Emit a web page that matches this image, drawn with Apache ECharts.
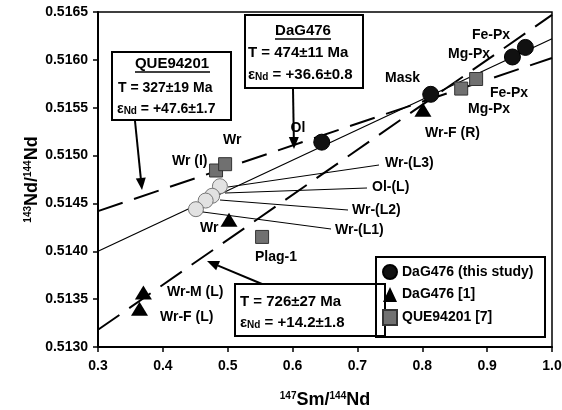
<!DOCTYPE html>
<html><head><meta charset="utf-8">
<script src="https://cdn.jsdelivr.net/npm/echarts@6/dist/echarts.min.js"></script>
<style>html,body{margin:0;padding:0;background:#fff}#c{width:562px;height:410px}</style>
</head><body><div id="c"></div>
<script>
// ---- data ----
const xTicks = [0.3, 0.4, 0.5, 0.6, 0.7, 0.8, 0.9, 1.0];
const yTicks = [0.5130, 0.5135, 0.5140, 0.5145, 0.5150, 0.5155, 0.5160, 0.5165];
// DaG476 (this study): Ol, Mask, Mg-Px, Fe-Px
const dagX = [0.645, 0.813, 0.939, 0.959];
const dagY = [0.51514, 0.51564, 0.51603, 0.51613];
// DaG476 [1]: Wr-M (L), Wr-F (L), Wr, Wr-F (R)
const nyqX = [0.370, 0.364, 0.502, 0.801];
const nyqY = [0.51357, 0.51340, 0.51433, 0.51548];
// QUE94201 [7]: Wr (I), Wr, Plag-1, Fe-Px, Mg-Px
const queX = [0.482, 0.496, 0.553, 0.860, 0.883];
const queY = [0.514844, 0.51491, 0.51415, 0.51570, 0.51580];
// leachates: Wr-(L3), Ol-(L), Wr-(L2), Wr-(L1)
const leachX = [0.488, 0.476, 0.466, 0.451];
const leachY = [0.51468, 0.51458, 0.51453, 0.51444];
// isochron end points
const dagLineX = [0.3, 1.0], dagLineY = [0.51400, 0.51622];
const nyqLineX = [0.3, 1.0], nyqLineY = [0.51318, 0.51647];
const queLineX = [0.3, 1.0], queLineY = [0.51442, 0.51602];

const zip = (a, b) => a.map((v, i) => [v, b[i]]);
const F = 'Liberation Sans';
const chart = echarts.init(document.getElementById('c'), null, {renderer: 'canvas'});

function arrow(fx, fy, tx, ty) {
  const dx = tx - fx, dy = ty - fy, L = Math.hypot(dx, dy), ux = dx / L, uy = dy / L;
  const len = 12, hw = 5, bx = tx - ux * len, by = ty - uy * len;
  return [
    {type: 'line', z: 100, shape: {x1: fx, y1: fy, x2: bx, y2: by}, style: {stroke: '#000', lineWidth: 2}},
    {type: 'polygon', z: 100, shape: {points: [[tx, ty], [bx - uy * hw, by + ux * hw], [bx + uy * hw, by - ux * hw]]}, style: {fill: '#000'}}
  ];
}
function txt(x, y, s, size, align) {
  return {type: 'text', z: 101, x: x, y: y, style: {text: s, font: 'bold ' + (size || 14) + 'px "' + F + '"', fill: '#000', textAlign: align || 'left', textVerticalAlign: 'middle'}};
}
function rich(x, y, s, size) {
  return {type: 'text', z: 101, x: x, y: y, style: {text: s, fill: '#000', textVerticalAlign: 'middle',
    rich: {n: {fontFamily: F, fontWeight: 'bold', fontSize: size}, sub: {fontFamily: F, fontWeight: 'bold', fontSize: 10, verticalAlign: 'bottom'}}}};
}
function box(x, y, w, h, fill) {
  return {type: 'rect', z: 99, shape: {x: x, y: y, width: w, height: h}, style: {fill: fill || '#fff', stroke: '#000', lineWidth: 2}};
}
function lead(x1, y1, x2, y2) {
  return {type: 'line', z: 98, shape: {x1, y1, x2, y2}, style: {stroke: '#000', lineWidth: 1}};
}
function uline(x1, x2, y) {
  return {type: 'line', z: 101, shape: {x1, y1: y, x2, y2: y}, style: {stroke: '#000', lineWidth: 1.5}};
}

const graphics = [].concat(
  // QUE94201 box
  [box(112, 52, 119, 68), txt(172, 64, 'QUE94201', 15, 'center'), uline(135, 210, 72),
   txt(118, 88, 'T = 327±19 Ma', 14), rich(117, 109, '{n|ε}{sub|Nd}{n| = +47.6±1.7}', 14)],
  arrow(135, 121, 142, 190),
  // DaG476 box
  [box(245, 15, 118, 73), txt(303, 31, 'DaG476', 15, 'center'), uline(275, 331, 39),
   txt(248, 53, 'T = 474±11 Ma', 15), rich(248, 75, '{n|ε}{sub|Nd}{n| = +36.6±0.8}', 15)],
  arrow(293, 89, 294, 149),
  // T=726 box
  [box(235, 284, 150, 52), txt(240, 302, 'T = 726±27 Ma', 15), rich(240, 323, '{n|ε}{sub|Nd}{n| = +14.2±1.8}', 15)],
  arrow(262, 284, 207, 261),
  // legend frame
  [box(376, 257, 169, 80, 'none')],
  // point labels
  [txt(298, 128, 'Ol', 14, 'center'), txt(385, 78, 'Mask'), txt(472, 35, 'Fe-Px'), txt(448, 54, 'Mg-Px'),
   txt(490, 93, 'Fe-Px'), txt(468, 109, 'Mg-Px'), txt(425, 133, 'Wr-F (R)'), txt(223, 140, 'Wr'),
   txt(172, 161, 'Wr (I)'), txt(385, 163, 'Wr-(L3)'), txt(372, 187, 'Ol-(L)'), txt(352, 210, 'Wr-(L2)'),
   txt(335, 230, 'Wr-(L1)'), txt(200, 228, 'Wr'), txt(255, 257, 'Plag-1'), txt(167, 292, 'Wr-M (L)'),
   txt(160, 317, 'Wr-F (L)')],
  [lead(228, 187, 379, 165), lead(225, 193, 367, 188), lead(220, 200, 348, 210), lead(203, 212, 331, 229)]
);

const dash = [26, 12];
chart.setOption({
  animation: false,
  backgroundColor: '#fff',
  grid: {left: 98, right: 10, top: 12, bottom: 63, containLabel: false, outerBoundsMode: 'none',
         show: true, borderColor: '#000', borderWidth: 1.5},
  xAxis: {
    type: 'value', min: xTicks[0], max: xTicks[xTicks.length - 1], interval: 0.1,
    axisLine: {show: true, lineStyle: {color: '#000', width: 2}},
    axisTick: {show: true, length: 5, lineStyle: {color: '#000', width: 1.5}},
    splitLine: {show: false},
    axisLabel: {margin: 12, color: '#000', fontFamily: F, fontWeight: 'bold', fontSize: 14, formatter: v => v.toFixed(1)},
    name: '{s|147}{n|Sm/}{s|144}{n|Nd}', nameLocation: 'middle', nameGap: 44, nameMoveOverlap: false,
    nameTextStyle: {rich: {s: {fontFamily: F, fontWeight: 'bold', fontSize: 10, verticalAlign: 'top'}, n: {fontFamily: F, fontWeight: 'bold', fontSize: 18}}}
  },
  yAxis: {
    type: 'value', min: yTicks[0], max: yTicks[yTicks.length - 1], interval: 0.0005,
    axisLine: {show: true, lineStyle: {color: '#000', width: 2}},
    axisTick: {show: true, length: 5, lineStyle: {color: '#000', width: 1.5}},
    splitLine: {show: false},
    axisLabel: {margin: 10, color: '#000', fontFamily: F, fontWeight: 'bold', fontSize: 14, formatter: v => v.toFixed(4)},
    name: '{s|143}{n|Nd/}{s|144}{n|Nd}', nameLocation: 'middle', nameGap: 57, nameRotate: 90, nameMoveOverlap: false,
    nameTextStyle: {rich: {s: {fontFamily: F, fontWeight: 'bold', fontSize: 10, verticalAlign: 'top'}, n: {fontFamily: F, fontWeight: 'bold', fontSize: 18}}}
  },
  legend: {
    left: 377, top: 259, orient: 'vertical', itemWidth: 14, itemHeight: 15, itemGap: 7, z: 120,
    data: ['DaG476 (this study)', 'DaG476 [1]', 'QUE94201 [7]'],
    textStyle: {fontFamily: F, fontWeight: 'bold', fontSize: 14, color: '#000'}
  },
  series: [
    {type: 'line', name: 'dagIso', data: zip(dagLineX, dagLineY), symbol: 'none', lineStyle: {color: '#000', width: 1.2}, z: 2, silent: true},
    {type: 'line', name: 'nyqIso', data: zip(nyqLineX, nyqLineY), symbol: 'none', lineStyle: {color: '#000', width: 2, type: dash}, z: 2, silent: true},
    {type: 'line', name: 'queIso', data: zip(queLineX, queLineY), symbol: 'none', lineStyle: {color: '#000', width: 2, type: dash}, z: 2, silent: true},
    {type: 'scatter', name: 'leach', data: zip(leachX, leachY), symbol: 'circle', symbolSize: 15,
     itemStyle: {color: '#e2e2e2', borderColor: '#777', borderWidth: 1, opacity: 1}, z: 3},
    {type: 'scatter', name: 'QUE94201 [7]', data: zip(queX, queY), symbol: 'rect', symbolSize: 13,
     itemStyle: {color: '#707070', borderColor: '#333', borderWidth: 1, opacity: 1}, z: 4},
    {type: 'scatter', name: 'DaG476 [1]', data: zip(nyqX, nyqY), symbol: 'triangle', symbolSize: [17, 14],
     itemStyle: {color: '#000', opacity: 1}, z: 4},
    {type: 'scatter', name: 'DaG476 (this study)', data: zip(dagX, dagY), symbol: 'circle', symbolSize: 16,
     itemStyle: {color: '#111', borderColor: '#000', borderWidth: 1, opacity: 1}, z: 5}
  ],
  graphic: graphics
});
</script></body></html>
